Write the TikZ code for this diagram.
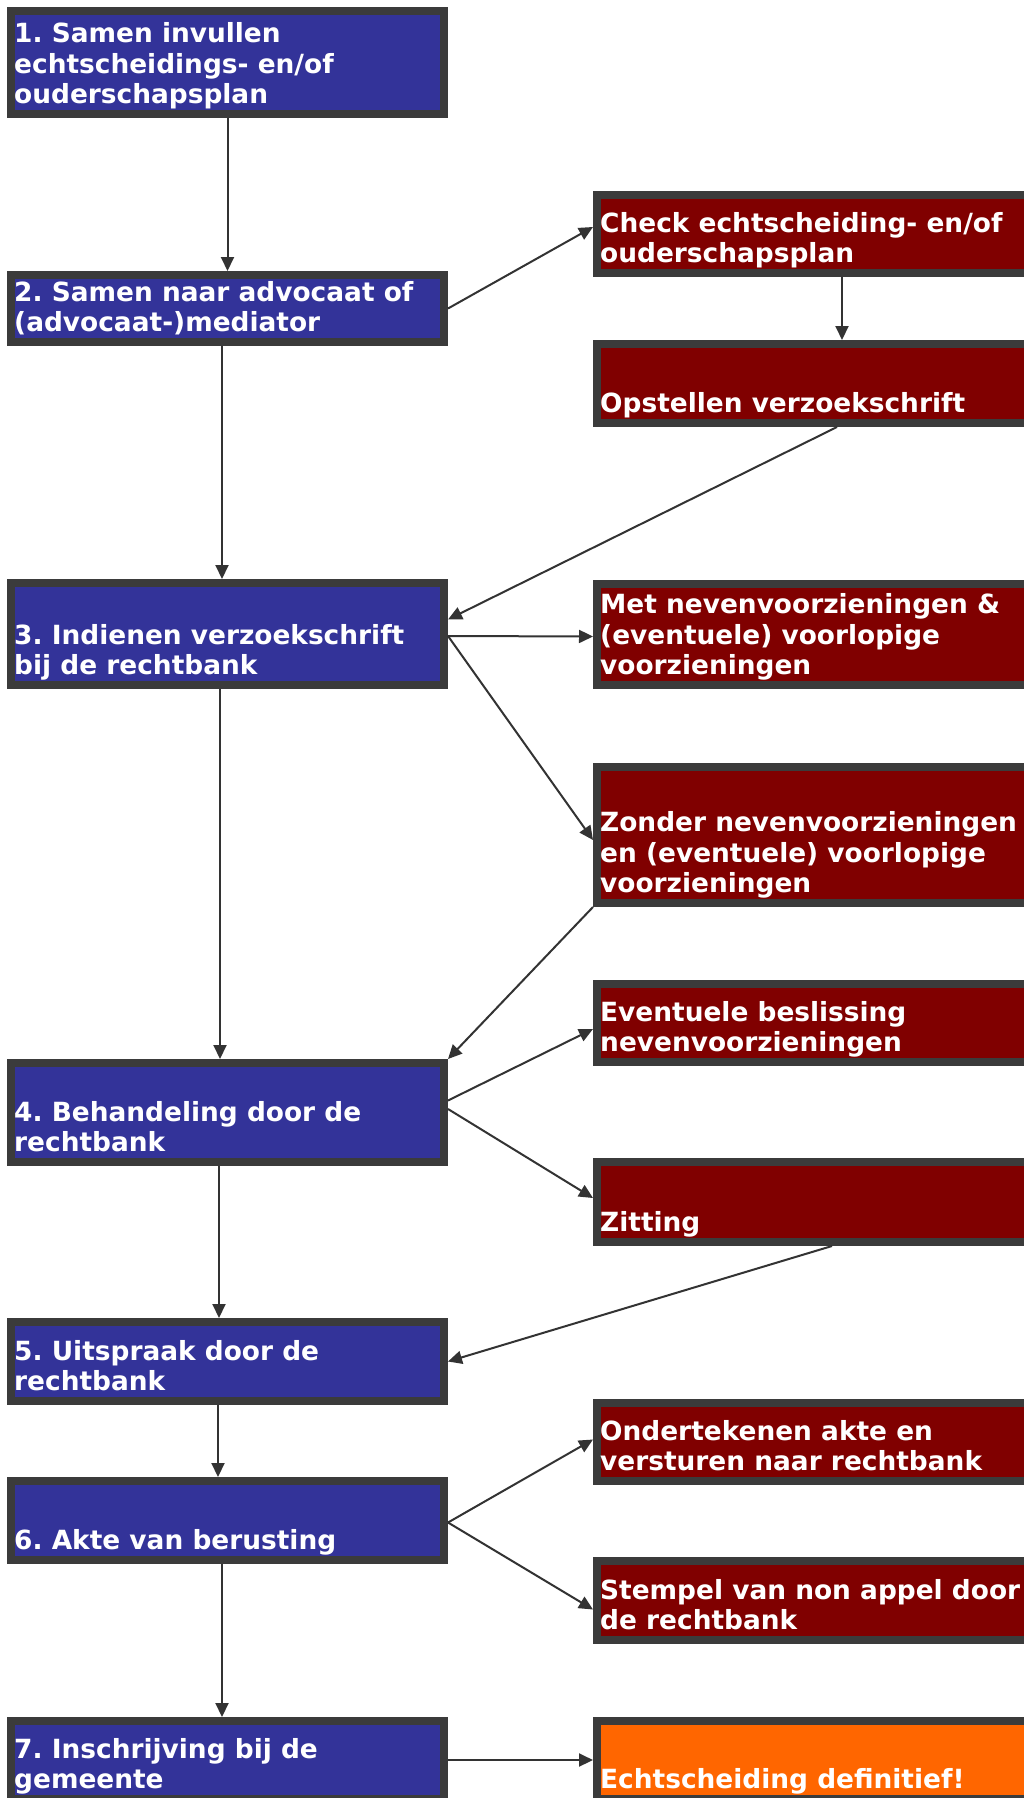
\documentclass[tikz,border=0pt]{standalone}
\usepackage{fontspec}
\setmainfont{DejaVu Sans}
\usetikzlibrary{arrows.meta}
\frenchspacing
\definecolor{bordercol}{HTML}{3B3B3B}
\definecolor{linecol}{HTML}{333333}
\definecolor{stepblue}{HTML}{333399}
\definecolor{stepmaroon}{HTML}{800000}
\definecolor{steporange}{HTML}{FF6600}
\newcommand\mkbox[7]{%
  \pgfmathsetmacro\bxc{(#2+#4)/2}%
  \pgfmathsetmacro\byc{(#3+#5)/2}%
  \pgfmathsetmacro\bxw{#4-#2-8}%
  \pgfmathsetmacro\byh{#5-#3-8}%
  \node[stepbox, fill=#6, minimum width=\bxw pt, minimum height=\byh pt] (#1) at (\bxc,\byc) {};
  \node[lbl, anchor=south west] (#1t) at ([xshift=7pt,yshift=8pt]#1.south west) {#7};
}
\begin{document}
\begin{tikzpicture}[x=1pt,y=-1pt,
  stepbox/.style={draw=bordercol, line width=8pt, outer sep=4pt, inner sep=0pt, rectangle},
  lbl/.style={text=white, font=\bfseries\fontsize{26.4}{30.7}\selectfont\frenchspacing, align=left, inner sep=0pt, text depth=6pt},
  conn/.style={draw=linecol, line width=2pt, -{Triangle[length=14pt,width=13pt]}}]
\useasboundingbox (0,0) rectangle (1024,1798);
\clip (0,0) rectangle (1024,1798);
% left column
\mkbox{b1}{7}{7}{448}{118}{stepblue}{1. Samen invullen\\echtscheidings- en/of\\ouderschapsplan}
\mkbox{b2}{7}{271}{448}{346}{stepblue}{2. Samen naar advocaat of\\(advocaat-)mediator}
\mkbox{b3}{7}{579}{448}{689}{stepblue}{3. Indienen verzoekschrift\\bij de rechtbank}
\mkbox{b4}{7}{1059}{448}{1166}{stepblue}{4. Behandeling door de\\rechtbank}
\mkbox{b5}{7}{1318}{448}{1405}{stepblue}{5. Uitspraak door de\\rechtbank}
\mkbox{b6}{7}{1477}{448}{1564}{stepblue}{6. Akte van berusting}
\mkbox{b7}{7}{1717}{448}{1803}{stepblue}{7. Inschrijving bij de\\gemeente}
% right column
\mkbox{r1}{593}{191}{1091}{277}{stepmaroon}{Check echtscheiding- en/of\\ouderschapsplan}
\mkbox{r2}{593}{340}{1091}{427}{stepmaroon}{Opstellen verzoekschrift}
\mkbox{r3}{593}{580}{1091}{689}{stepmaroon}{Met nevenvoorzieningen \&\\(eventuele) voorlopige\\voorzieningen}
\mkbox{r4}{593}{763}{1091}{907}{stepmaroon}{Zonder nevenvoorzieningen\\en (eventuele) voorlopige\\voorzieningen}
\mkbox{r5}{593}{980}{1091}{1066}{stepmaroon}{Eventuele beslissing\\nevenvoorzieningen}
\mkbox{r6}{593}{1158}{1091}{1246}{stepmaroon}{Zitting}
\mkbox{r7}{593}{1399}{1091}{1485}{stepmaroon}{Ondertekenen akte en\\versturen naar rechtbank}
\mkbox{r8}{593}{1557}{1091}{1644}{stepmaroon}{Stempel van non appel door\\de rechtbank}
\mkbox{r9}{593}{1717}{1091}{1803}{steporange}{Echtscheiding definitief!}
% connectors
\draw[conn] (b1.south) -- (b2.north);
\draw[conn] (b2.east) -- ([yshift=7pt]r1.west);
\draw[conn] (r1.south) -- (r2.north);
\draw[conn] ([xshift=-5pt]r2.south) -- ([yshift=14.5pt]b3.east);
\draw[conn] ([xshift=-5.5pt]b2.south) -- ([xshift=-5.5pt]b3.north);
\draw[conn] ([yshift=-2pt]b3.east) -- ([yshift=-2pt]r3.west);
\draw[conn] ([yshift=-2pt]b3.east) -- ([yshift=-5pt]r4.west);
\draw[conn] (r4.south west) -- (b4.north east);
\draw[conn] ([xshift=-7.5pt]b3.south) -- ([xshift=-7.5pt]b4.north);
\draw[conn] ([yshift=12pt]b4.east) -- ([yshift=-6pt]r5.west);
\draw[conn] ([yshift=3.5pt]b4.east) -- ([yshift=4pt]r6.west);
\draw[conn] ([xshift=-10pt]r6.south) -- (b5.east);
\draw[conn] ([xshift=-8.5pt]b4.south) -- ([xshift=-8.5pt]b5.north);
\draw[conn] ([xshift=-9.5pt]b5.south) -- ([xshift=-9.5pt]b6.north);
\draw[conn] ([yshift=-2pt]b6.east) -- ([yshift=2.5pt]r7.west);
\draw[conn] ([yshift=-2pt]b6.east) -- ([yshift=-9pt]r8.west);
\draw[conn] ([xshift=-5.5pt]b6.south) -- ([xshift=-5.5pt]b7.north);
\draw[conn] (b7.east) -- (r9.west);
\end{tikzpicture}
\end{document}
